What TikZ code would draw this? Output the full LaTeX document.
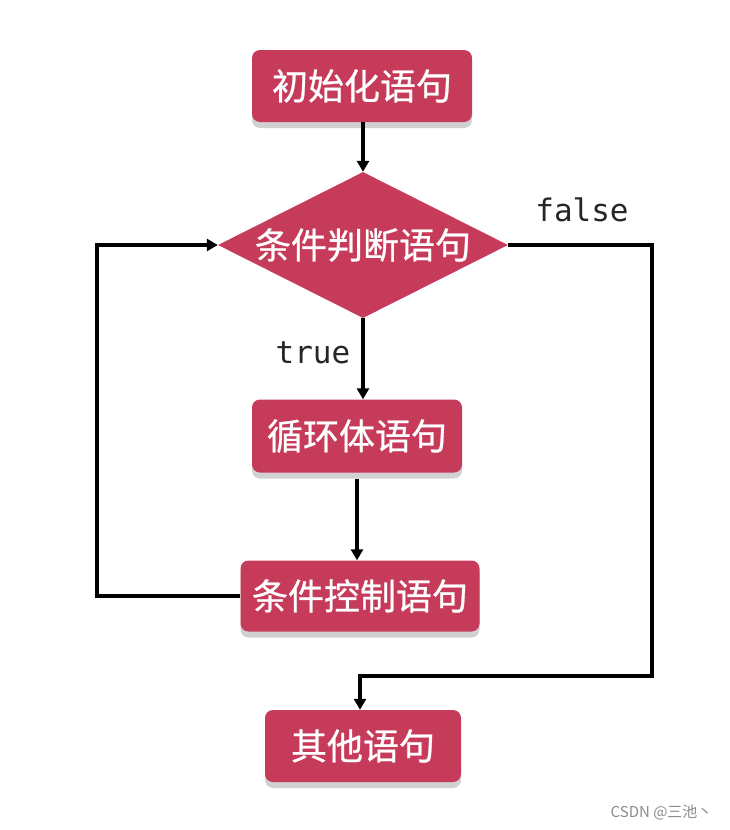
\documentclass[tikz,border=0pt]{standalone}
\usepackage{fontspec}
\newfontfamily\cjk[FakeBold=0.7]{Noto Sans CJK SC}
\newfontfamily\cjkplain{Noto Sans CJK SC}
\newfontfamily\monof{DejaVu Sans Mono}
\usetikzlibrary{shapes.geometric,shadows,arrows.meta}
\definecolor{boxred}{HTML}{C73B5A}
\tikzset{
  box/.style={rectangle, rounded corners=8pt, fill=boxred, text=white,
    font=\cjk\fontsize{36}{40}\selectfont, inner sep=0pt,
    drop shadow={shadow xshift=0pt, shadow yshift=-6pt, fill=black!18, opacity=1}},
  decision/.style={diamond, fill=boxred, text=white, aspect=2,
    font=\cjk\fontsize{36}{40}\selectfont, inner sep=0pt,
    minimum width=290pt, minimum height=146pt},
  conn/.style={line width=3.2pt, draw=black, -{Triangle[length=11pt,width=12pt]}},
  flowlabel/.style={font=\monof\fontsize{31}{36}\selectfont, text=black!85},
}
\begin{document}
\begin{tikzpicture}[x=1pt,y=-1pt]
\fill[white] (0,0) rectangle (729,830);
\useasboundingbox (0,0) rectangle (729,830);
\node[box, minimum width=220pt, minimum height=72pt] (init) at (362,86) {初始化语句};
\node[decision] (cond) at (363,245) {条件判断语句};
\node[box, minimum width=210pt, minimum height=73pt] (body) at (357,436) {循环体语句};
\node[box, minimum width=239pt, minimum height=71pt] (ctrl) at (360,596) {条件控制语句};
\node[box, minimum width=196pt, minimum height=72pt] (other) at (363,746) {其他语句};
\node[flowlabel] (tlab) at (313,353) {true};
\node[flowlabel] (flab) at (582,210) {false};
\node[font=\cjkplain\fontsize{15}{17}\selectfont, text=black!45, anchor=east] (wm) at (716,813) {CSDN @三池丶};
\coordinate (lb) at (97,596);
\coordinate (lt) at (97,245);
\coordinate (rt) at (652,245);
\coordinate (rb) at (652,676);
\coordinate (ob) at (360,676);
\draw[conn] (init.south -| cond.north) -- (cond.north);
\draw[conn] (cond.south) -- (cond.south |- body.north);
\draw[conn] ([yshift=-6pt]body.south) -- (body.south |- ctrl.north);
\draw[conn] (ctrl.west) -- (lb) -- (lt) -- (cond.west);
\draw[conn] (cond.east) -- (rt) -- (rb) -- (ob) -- (other.north -| ob);
\end{tikzpicture}
\end{document}
